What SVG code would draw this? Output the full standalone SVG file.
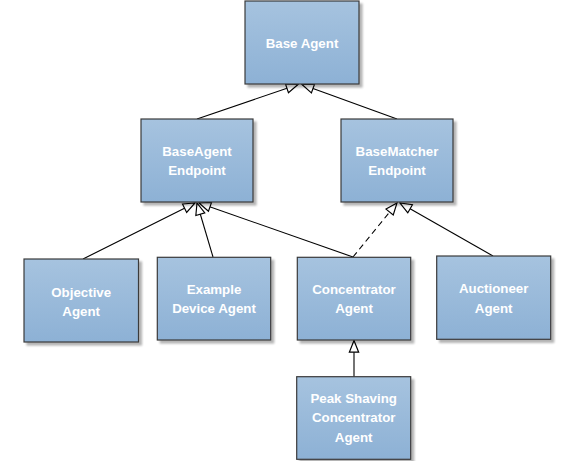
<svg xmlns="http://www.w3.org/2000/svg" width="585" height="461" viewBox="0 0 585 461">
<defs>
<linearGradient id="g" x1="0" y1="0" x2="0" y2="1">
<stop offset="0" stop-color="#a6c3df"/>
<stop offset="1" stop-color="#8db1d5"/>
</linearGradient>
<marker id="tri" markerUnits="userSpaceOnUse" markerWidth="14" markerHeight="12" viewBox="0 0 12 10" refX="11" refY="5" orient="auto">
<path d="M1,1 L11,5 L1,9 Z" fill="#ffffff" stroke="#000000" stroke-width="1"/>
</marker>
<filter id="sh" x="-10%" y="-10%" width="130%" height="130%">
<feGaussianBlur in="SourceAlpha" stdDeviation="1.2"/>
<feOffset dx="2.5" dy="2.5" result="b"/>
<feComponentTransfer><feFuncA type="linear" slope="0.3"/></feComponentTransfer>
<feMerge><feMergeNode/><feMergeNode in="SourceGraphic"/></feMerge>
</filter>
</defs>
<style>
.box{fill:url(#g);stroke:#3a3a3a;stroke-width:1.2;filter:url(#sh)}
.t{font-family:"Liberation Sans",Arial,sans-serif;font-weight:bold;font-size:13.3px;fill:#ffffff;text-anchor:middle}
.c{fill:none;stroke:#000000;stroke-width:1.1;marker-end:url(#tri)}
.d{stroke-dasharray:6,4}
</style>
<rect width="585" height="461" fill="#ffffff"/>
<g id="connectors">
<line class="c" x1="197" y1="119" x2="298" y2="84.5"/>
<line class="c" x1="397" y1="119" x2="302" y2="84.5"/>
<line class="c" x1="83" y1="259" x2="195" y2="203"/>
<line class="c" x1="213" y1="257" x2="197" y2="203"/>
<line class="c" x1="353" y1="257" x2="199" y2="203"/>
<line class="c d" x1="353" y1="257" x2="397" y2="203"/>
<line class="c" x1="493" y1="256" x2="400" y2="203"/>
<line class="c" x1="354" y1="377" x2="354" y2="340.5"/>
</g>
<g id="base-agent">
<rect class="box" x="245" y="1" width="114" height="83"/>
<text class="t" x="302" y="47.5">Base Agent</text>
</g>
<g id="baseagent-endpoint">
<rect class="box" x="141" y="119" width="112" height="83"/>
<text class="t" x="197" y="155.5">BaseAgent</text>
<text class="t" x="197" y="174.8">Endpoint</text>
</g>
<g id="basematcher-endpoint">
<rect class="box" x="341" y="119" width="112" height="83"/>
<text class="t" x="397" y="155.5">BaseMatcher</text>
<text class="t" x="397" y="174.8">Endpoint</text>
</g>
<g id="objective-agent">
<rect class="box" x="24" y="259" width="114.5" height="83"/>
<text class="t" x="81.2" y="296.5">Objective</text>
<text class="t" x="81.2" y="315.5">Agent</text>
</g>
<g id="example-device-agent">
<rect class="box" x="157.3" y="257.3" width="113.4" height="82.7"/>
<text class="t" x="214" y="294">Example</text>
<text class="t" x="214" y="313.2">Device Agent</text>
</g>
<g id="concentrator-agent">
<rect class="box" x="297.3" y="257.3" width="113.4" height="82.7"/>
<text class="t" x="354" y="294">Concentrator</text>
<text class="t" x="354" y="313.2">Agent</text>
</g>
<g id="auctioneer-agent">
<rect class="box" x="436.7" y="256" width="114" height="83.3"/>
<text class="t" x="493.7" y="293.3">Auctioneer</text>
<text class="t" x="493.7" y="312.5">Agent</text>
</g>
<g id="peak-shaving-concentrator-agent">
<rect class="box" x="296.7" y="376.7" width="114" height="82.6"/>
<text class="t" x="353.7" y="403.2">Peak Shaving</text>
<text class="t" x="353.7" y="422.4">Concentrator</text>
<text class="t" x="353.7" y="441.5">Agent</text>
</g>
</svg>
